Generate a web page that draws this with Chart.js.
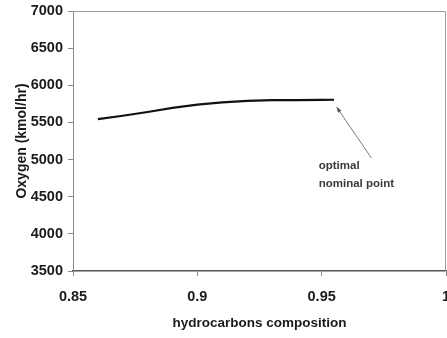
<!DOCTYPE html>
<html>
<head>
<meta charset="utf-8">
<script src="https://cdn.jsdelivr.net/npm/chart.js@4"></script>
<style>
  html, body { margin: 0; padding: 0; background: #fff; }
  #wrap { width: 447px; height: 338px; }
</style>
</head>
<body>
<div id="wrap"><canvas id="chart" width="447" height="338"></canvas></div>
<script>
// hydrocarbons composition vs oxygen flow
const composition = [0.86, 0.87, 0.88, 0.89, 0.9, 0.91, 0.92, 0.93, 0.94, 0.95, 0.955];
const oxygen = [5545, 5590, 5640, 5695, 5740, 5770, 5790, 5800, 5800, 5803, 5805];

const xTickValues = [0.85, 0.9, 0.95, 1];
const xTickLabels = ["0.85", "0.9", "0.95", "1"];
const yTickValues = [3500, 4000, 4500, 5000, 5500, 6000, 6500, 7000];
const yTickLabels = ["3500", "4000", "4500", "5000", "5500", "6000", "6500", "7000"];

// annotation (in data units)
const noteLines = ["optimal", "nominal point"];
const noteAt = [0.9488, 4914];
const arrowFrom = [0.970, 5021];
const arrowTo = [0.956, 5708];

const FONT = "'Liberation Sans', Arial, sans-serif";

// box round the plot + arrow note
const extras = {
    id: "extras",
    afterDraw(chart) {
        const ctx = chart.ctx;
        const a = chart.chartArea;
        const xs = chart.scales.x, ys = chart.scales.y;
        ctx.save();
        ctx.strokeStyle = "#9a9a9a";
        ctx.lineWidth = 1;
        ctx.beginPath();
        ctx.moveTo(a.left, a.top + 0.5);
        ctx.lineTo(a.right - 0.5, a.top + 0.5);
        ctx.lineTo(a.right - 0.5, a.bottom);
        ctx.stroke();

        // arrow
        const x1 = xs.getPixelForValue(arrowFrom[0]), y1 = ys.getPixelForValue(arrowFrom[1]);
        const x2 = xs.getPixelForValue(arrowTo[0]), y2 = ys.getPixelForValue(arrowTo[1]);
        ctx.strokeStyle = "#7a7a7a";
        ctx.beginPath();
        ctx.moveTo(x1, y1);
        ctx.lineTo(x2, y2);
        ctx.stroke();
        const ang = Math.atan2(y2 - y1, x2 - x1);
        ctx.fillStyle = "#555";
        ctx.beginPath();
        ctx.moveTo(x2, y2);
        ctx.lineTo(x2 - 6 * Math.cos(ang - 0.35), y2 - 6 * Math.sin(ang - 0.35));
        ctx.lineTo(x2 - 6 * Math.cos(ang + 0.35), y2 - 6 * Math.sin(ang + 0.35));
        ctx.closePath();
        ctx.fill();

        // note text
        ctx.fillStyle = "#3a3a3a";
        ctx.font = "bold 11.5px " + FONT;
        ctx.textAlign = "left";
        ctx.textBaseline = "middle";
        const tx = xs.getPixelForValue(noteAt[0]);
        const ty = ys.getPixelForValue(noteAt[1]);
        noteLines.forEach((line, i) => ctx.fillText(line, tx, ty + i * 18));
        ctx.restore();
    }
};

new Chart(document.getElementById("chart"), {
    type: "line",
    data: {
        datasets: [{
            data: composition.map((c, i) => ({ x: c, y: oxygen[i] })),
            borderColor: "#111",
            borderWidth: 2.2,
            pointRadius: 0,
            tension: 0,
            fill: false
        }]
    },
    options: {
        responsive: false,
        animation: false,
        layout: { padding: { top: 11, right: 1, left: 0, bottom: 0 } },
        plugins: {
            legend: { display: false },
            tooltip: { enabled: false }
        },
        scales: {
            x: {
                type: "linear",
                min: 0.85,
                max: 1,
                afterBuildTicks: axis => { axis.ticks = xTickValues.map(v => ({ value: v })); },
                afterFit: axis => { axis.height = 67; axis.paddingLeft = 0; axis.paddingRight = 0; },
                ticks: {
                    autoSkip: false,
                    maxRotation: 0,
                    padding: 12,
                    color: "#1a1a1a",
                    font: { family: FONT, size: 14.5, weight: "bold" },
                    callback: v => xTickLabels[xTickValues.indexOf(v)]
                },
                grid: { drawOnChartArea: false, tickLength: 5, color: "#888" },
                border: { color: "#555", width: 1.5 },
                title: {
                    display: true,
                    text: "hydrocarbons composition",
                    color: "#1a1a1a",
                    font: { family: FONT, size: 13.5, weight: "bold" },
                    padding: { top: 0, bottom: 7 }
                }
            },
            y: {
                min: 3500,
                max: 7000,
                afterBuildTicks: axis => { axis.ticks = yTickValues.map(v => ({ value: v })); },
                afterFit: axis => { axis.width = 73; axis.paddingTop = 0; axis.paddingBottom = 0; },
                ticks: {
                    autoSkip: false,
                    padding: 5,
                    color: "#1a1a1a",
                    font: { family: FONT, size: 14.5, weight: "bold" },
                    callback: v => yTickLabels[yTickValues.indexOf(v)]
                },
                grid: { drawOnChartArea: false, tickLength: 5, color: "#888" },
                border: { color: "#8a8a8a", width: 1 },
                title: {
                    display: true,
                    text: "Oxygen (kmol/hr)",
                    color: "#1a1a1a",
                    font: { family: FONT, size: 14, weight: "bold" },
                    padding: { top: 14, bottom: 0 }
                }
            }
        }
    },
    plugins: [extras]
});
</script>
</body>
</html>
